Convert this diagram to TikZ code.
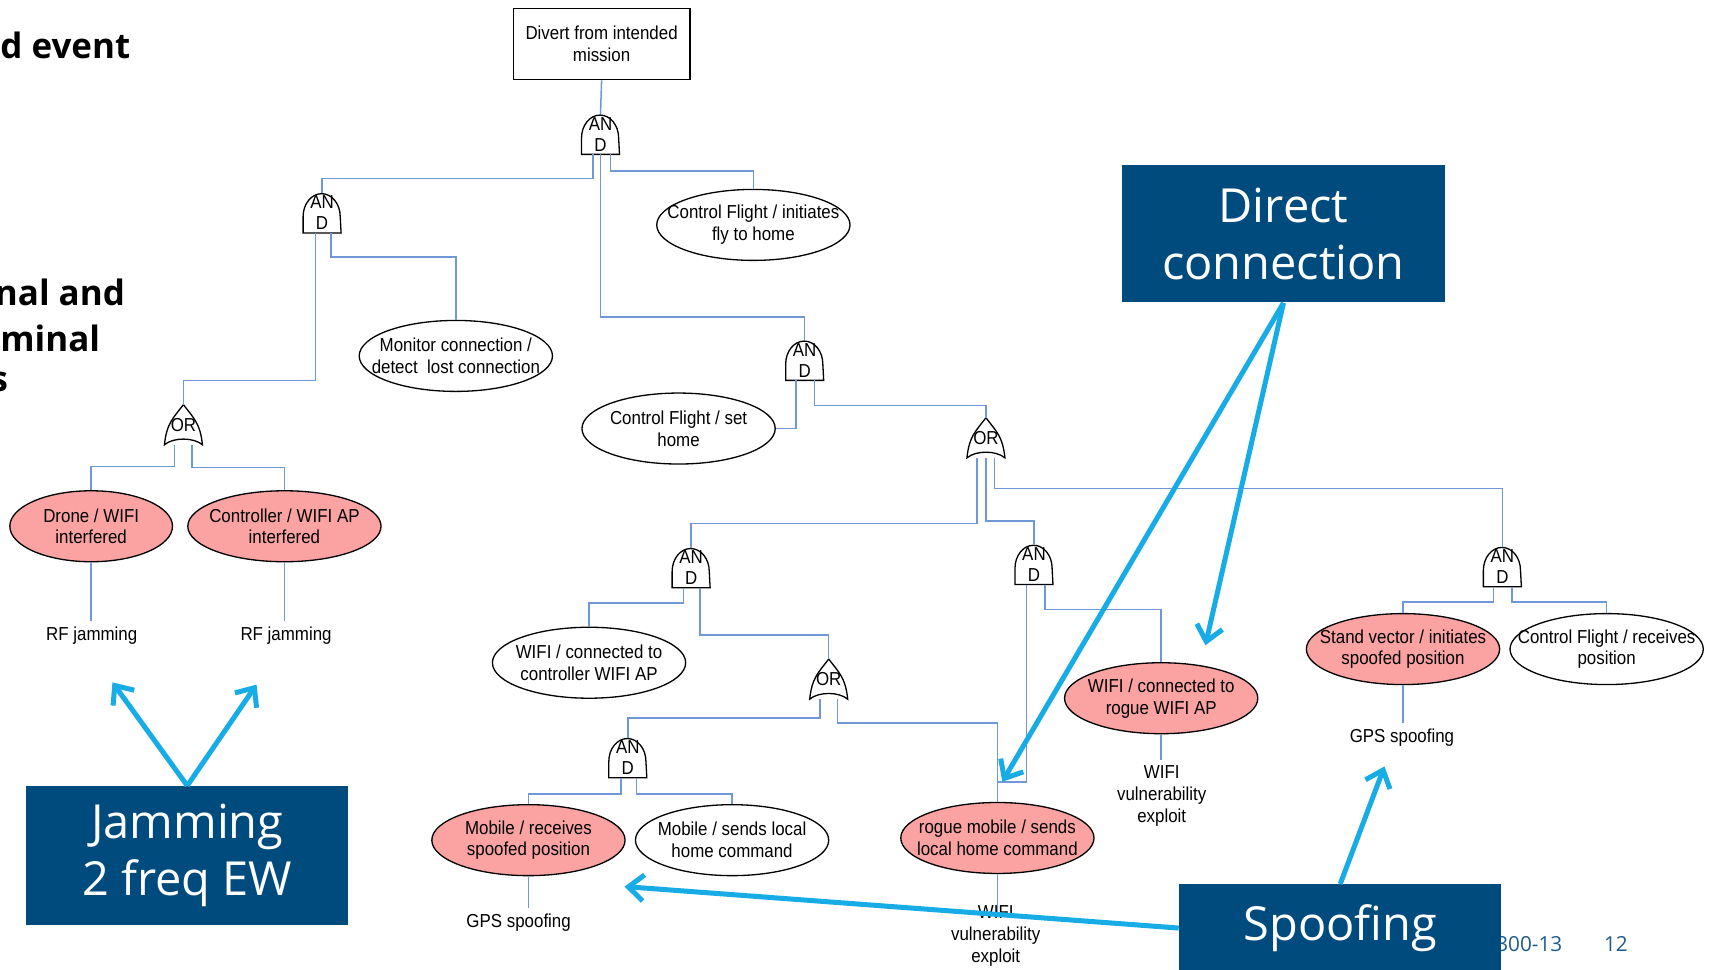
\documentclass[tikz,border=0pt]{standalone}
\usepackage{fontspec}
\usepackage{xcolor}
\usepackage{tikz}
\usetikzlibrary{arrows.meta,positioning,calc,shapes.geometric}

\newfontfamily\ftfont{Liberation Sans}[FakeStretch=0.9]
\newfontfamily\osfont{Open Sans}

\definecolor{treeblue}{HTML}{7098D8}
\definecolor{calloutblue}{HTML}{004B7D}
\definecolor{pointblue}{HTML}{18ACE6}
\definecolor{hitpink}{HTML}{FBA3A3}
\definecolor{footblue}{HTML}{1F5C8C}

\tikzset{
  treeline/.style={treeblue,line width=.7pt},
  evt/.style={ellipse,draw,line width=.6pt,minimum width=88.5pt,minimum height=32.5pt,
    inner xsep=-25pt,inner ysep=-12pt,align=center,font=\ftfont\fontsize{8.6}{10}\selectfont},
  hitevt/.style={evt,fill=hitpink},
  topevt/.style={rectangle,draw,line width=.6pt,minimum width=81pt,minimum height=32.5pt,
    align=center,font=\ftfont\fontsize{8.6}{10}\selectfont},
  gatebox/.style={minimum width=17pt,minimum height=18pt,inner sep=0pt,align=center,
    font=\ftfont\fontsize{8.6}{9.5}\selectfont},
  leaf/.style={align=center,inner sep=2.5pt,font=\ftfont\fontsize{8.6}{10}\selectfont},
  callout/.style={fill=calloutblue,text=white,minimum width=147.5pt,align=center,
    font=\osfont\fontsize{21.5}{26}\selectfont},
  frag/.style={anchor=west,inner sep=0pt,font=\osfont\bfseries\fontsize{16}{20}\selectfont},
  pointer/.style={pointblue,line width=2.3pt,-{Straight Barb[length=7pt,width=12pt]}},
}

% gates: name, centre
\newcommand{\andgate}[2]{%
  \node[gatebox] (#1) at (#2) {AN\\D};
  \draw[line width=.6pt] (#1.south west) -- ++(0,15)
    arc[start angle=180,end angle=0,x radius=17,y radius=21] -- (#1.south east) -- cycle;
}
\newcommand{\orgate}[2]{%
  \node[gatebox] (#1) at (#2) {OR};
  \draw[line width=.6pt] (#1.south west) .. controls +(2,20) and +(-9,-12) .. (#1.north)
    .. controls +(9,-12) and +(-2,20) .. (#1.south east)
    .. controls +(-8,7) and +(8,7) .. (#1.south west) -- cycle;
}

\begin{document}
\begin{tikzpicture}[x=0.5pt,y=0.5pt]
\useasboundingbox (0,0) rectangle (1568,888);

% slide text cut at the left edge
\node[frag] (frag1) at (0,846) {d event};
\node[frag] (frag2) at (-5,620) {nal and};
\node[frag] (frag3) at (0,578) {minal};
\node[frag] (frag4) at (-9,538) {s};

% top event and gates
\node[topevt] (top) at (551,847.5) {Divert from intended\\mission};
\andgate{g1}{550,765}
\andgate{g2}{295,693}
\andgate{g3}{737,558}
\andgate{g4}{633,368}
\andgate{g5}{947,371}
\andgate{g6}{1376,369}
\andgate{g7}{575,194}
\orgate{o1}{168,499}
\orgate{o2}{903,487}
\orgate{o3}{759,266}

% events
\node[evt] (flyhome) at (690,682) {Control Flight / initiates\\fly to home};
\node[evt] (monitor) at (417.5,562) {Monitor connection /\\detect~ lost connection};
\node[evt] (sethome) at (621.5,495.5) {Control Flight / set\\home};
\node[hitevt,minimum width=74.5pt] (dronewifi) at (83.5,406) {Drone / WIFI\\interfered};
\node[hitevt] (ctrlwifi) at (260.5,406) {Controller / WIFI AP\\interfered};
\node[evt] (ctrlap) at (539.5,281) {WIFI / connected to\\controller WIFI AP};
\node[hitevt] (rogueap) at (1063.5,248.5) {WIFI / connected to\\rogue WIFI AP};
\node[hitevt] (standvec) at (1285,293.5) {Stand vector / initiates\\spoofed position};
\node[evt] (recvpos) at (1471.5,293.5) {Control Flight / receives\\position};
\node[hitevt] (mobrecv) at (484,118.5) {Mobile / receives\\spoofed position};
\node[evt] (mobsend) at (670.5,118.5) {Mobile / sends local\\home command};
\node[hitevt] (roguemob) at (913.5,120.5) {rogue mobile / sends\\local home command};

% attack leaves
\node[leaf] (rf1) at (84,306) {RF jamming};
\node[leaf] (rf2) at (262,306) {RF jamming};
\node[leaf] (gps1) at (475,43) {GPS spoofing};
\node[leaf] (gps2) at (1284,212) {GPS spoofing};
\node[leaf] (vuln1) at (1064,159) {WIFI\\vulnerability\\exploit};
\node[leaf] (vuln2) at (912,31) {WIFI\\vulnerability\\exploit};

% tree lines
\draw[treeline] (top.south) -- (g1.north);
\draw[treeline] ($(g1.south)+(-7,0)$) -- ++(0,-22) -| (g2.north);
\draw[treeline] (g1.south) -- ++(0,-149) -| (g3.north);
\draw[treeline] ($(g1.south)+(9,0)$) -- ++(0,-15) -| (flyhome.north);
\draw[treeline] ($(g2.south)+(-6,0)$) -- ++(0,-135) -| (o1.north);
\draw[treeline] ($(g2.south)+(8,0)$) -- ++(0,-22) -| (monitor.north);
\draw[treeline] ($(o1.south)+(-8,0)$) -- ++(0,-20) -| (dronewifi.north);
\draw[treeline] ($(o1.south)+(8,0)$) -- ++(0,-21) -| (ctrlwifi.north);
\draw[treeline] ($(g3.south)+(-8,0)$) |- (sethome.east);
\draw[treeline] ($(g3.south)+(9,0)$) -- ++(0,-23) -| (o2.north);
\draw[treeline] ($(o2.south)+(-8,0)$) -- ++(0,-60) -| (g4.north);
\draw[treeline] (o2.south) -- ++(0,-58) -| (g5.north);
\draw[treeline] ($(o2.south)+(8,0)$) -- ++(0,-28) -| (g6.north);
\draw[treeline] ($(g4.south)+(-7,0)$) -- ++(0,-14) -| (ctrlap.north);
\draw[treeline] ($(g4.south)+(8,0)$) -- ++(0,-43) -| (o3.north);
\draw[treeline] ($(g5.south)+(-7,0)$) -- ++(0,-181) -| (roguemob.north);
\draw[treeline] ($(g5.south)+(10,0)$) -- ++(0,-23) -| (rogueap.north);
\draw[treeline] ($(o3.south)+(-8,0)$) -- ++(0,-17) -| (g7.north);
\draw[treeline] ($(o3.south)+(8,0)$) -- ++(0,-22) -| (roguemob.north);
\draw[treeline] ($(g7.south)+(-6,0)$) -- ++(0,-15) -| (mobrecv.north);
\draw[treeline] ($(g7.south)+(8,0)$) -- ++(0,-15) -| (mobsend.north);
\draw[treeline] ($(g6.south)+(-8,0)$) -- ++(0,-14) -| (standvec.north);
\draw[treeline] ($(g6.south)+(9,0)$) -- ++(0,-14) -| (recvpos.north);
\draw[treeline] (dronewifi.south) -- (dronewifi.south |- rf1.north);
\draw[treeline] (ctrlwifi.south) -- (ctrlwifi.south |- rf2.north);
\draw[treeline] (mobrecv.south) -- (mobrecv.south |- gps1.north);
\draw[treeline] (standvec.south) -- (standvec.south |- gps2.north);
\draw[treeline] (rogueap.south) -- (rogueap.south |- vuln1.north);
\draw[treeline] (roguemob.south) -- ([yshift=-6pt]roguemob.south |- vuln2.north);

% footer
\node[anchor=west,inner sep=0pt,text=footblue,font=\osfont\fontsize{9.5}{11}\selectfont] (docno) at (1370,23) {300-13};
\node[inner sep=0pt,text=footblue,font=\osfont\fontsize{9.5}{11}\selectfont] (pageno) at (1480,23) {12};

% callouts
\node[callout,minimum height=63.5pt] (jam) at (171.5,104.5) {Jamming\\2 freq EW};
\node[callout,minimum height=63pt] (direct) at (1175.5,674) {Direct\\connection};
\node[callout,minimum height=40pt] (spoof) at (1227.5,38) {Spoofing};

\coordinate (jtipL) at (103,263);
\coordinate (jtipR) at (235,261);
\coordinate (dtipA) at (918,172);
\coordinate (dtipB) at (1104,297);
\coordinate (stipA) at (572,76);
\coordinate (stipB) at (1268,186);
\draw[pointer] (jam.north) -- (jtipL);
\draw[pointer] (jam.north) -- (jtipR);
\draw[pointer] (direct.south) -- (dtipA);
\draw[pointer] (direct.south) -- (dtipB);
\draw[pointer] (spoof.west) -- (stipA);
\draw[pointer] (spoof.north) -- (stipB);
\end{tikzpicture}
\end{document}
